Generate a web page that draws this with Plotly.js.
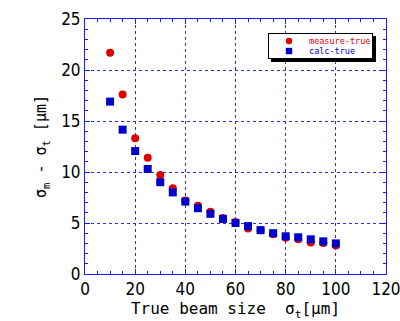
<!DOCTYPE html>
<html><head><meta charset="utf-8">
<script src="https://cdn.plot.ly/plotly-3.0.1.min.js"></script>
<style>body{margin:0;background:#fff}#c{width:400px;height:321px}</style>
</head><body><div id="c"></div>
<script>
const trueSize = [10,15,20,25,30,35,40,45,50,55,60,65,70,75,80,85,90,95,100];
const measureTrue = [21.7,17.6,13.3,11.4,9.7,8.4,7.2,6.7,6.1,5.5,5.1,4.45,4.3,3.9,3.55,3.4,3.1,3.05,2.8];
const calcTrue = [16.9,14.15,12.05,10.3,9.0,8.0,7.1,6.45,5.9,5.4,5.0,4.7,4.3,4.0,3.7,3.6,3.4,3.2,3.0];
const seriesNames = ['measure-true','calc-true'];
const xTicks = [0,20,40,60,80,100,120];
const yTicks = [0,5,10,15,20,25];

const tickFont = {family:'"Liberation Sans Narrow","DejaVu Sans Condensed",sans-serif', size:17, color:'#000'};
const axisCommon = {
  showline:true, linecolor:'#1a1aff', linewidth:1, mirror:'allticks',
  ticks:'inside', ticklen:5, tickcolor:'#1a1aff',
  showgrid:true, gridcolor:'#2a2aff', griddash:'dot', gridwidth:1,
  zeroline:false, tickfont:tickFont, ticklabeloverflow:'allow', tickmode:'array'
};
const data = [
  {x:trueSize, y:measureTrue, name:seriesNames[0], type:'scatter', mode:'markers',
   marker:{symbol:'circle', size:8, color:'#e00000'}},
  {x:trueSize, y:calcTrue, name:seriesNames[1], type:'scatter', mode:'markers',
   marker:{symbol:'square', size:8, color:'#0000cc'}}
];
const layout = {
  width:400, height:321,
  margin:{l:85, r:14, t:19, b:47},
  paper_bgcolor:'#fff', plot_bgcolor:'#fff',
  showlegend:true,
  xaxis:Object.assign({}, axisCommon, {range:[0,120], tickvals:xTicks, ticktext:xTicks.map(String),
    minor:{tickvals:[5,10,15,25,30,35,45,50,55,65,70,75,85,90,95,105,110,115], ticks:'inside', ticklen:3, tickcolor:'#1a1aff', showgrid:false},
    title:{text:'True beam size  σ<sub>t</sub>[μm]', standoff:3,
      font:{family:'"DejaVu Sans Mono",monospace', size:16, color:'#000'}}}),
  yaxis:Object.assign({}, axisCommon, {range:[0,25], tickvals:yTicks, ticktext:yTicks.map(String),
    minor:{dtick:1, ticks:'inside', ticklen:3, tickcolor:'#1a1aff', showgrid:false},
    title:{text:'σ<sub>m</sub> - σ<sub>t</sub> [μm]', standoff:10,
      font:{family:'"DejaVu Sans Mono",monospace', size:15, color:'#000'}}}),
  legend:{x:0.608, y:0.945, xanchor:'left', yanchor:'top',
    bgcolor:'#fff', bordercolor:'#000', borderwidth:1,
    font:{family:'"DejaVu Sans Mono",monospace', size:8.5},
    tracegroupgap:0, itemwidth:30}
};
Plotly.newPlot('c', data, layout, {staticPlot:true}).then(()=>{
  const items = document.querySelectorAll('.legend .traces');
  items.forEach((g,i)=>{
    const m = /translate\(([^,]+),/.exec(g.getAttribute('transform') || '');
    const tx = m ? m[1] : '0';
    g.setAttribute('transform', 'translate(' + tx + ',' + (8 + i*10) + ')');
  });
  document.querySelectorAll('.legend .legendpoints path.scatterpts').forEach(p=>{
    const t = p.getAttribute('transform') || '';
    p.setAttribute('transform', t + ' scale(0.8)');
  });
  document.querySelectorAll('.legendtext').forEach((t,i)=>{
    t.style.fill = i===0 ? '#e00000' : '#0000cc';
  });
  const bg = document.querySelector('.legend .bg');
  if (bg) {
    bg.setAttribute('height', 25);
    bg.setAttribute('width', 104);
    const sh = bg.cloneNode(true);
    sh.setAttribute('transform', 'translate(3,3)');
    sh.style.fill = '#000'; sh.style.stroke = '#000';
    bg.parentNode.insertBefore(sh, bg);
  }
});
</script></body></html>
